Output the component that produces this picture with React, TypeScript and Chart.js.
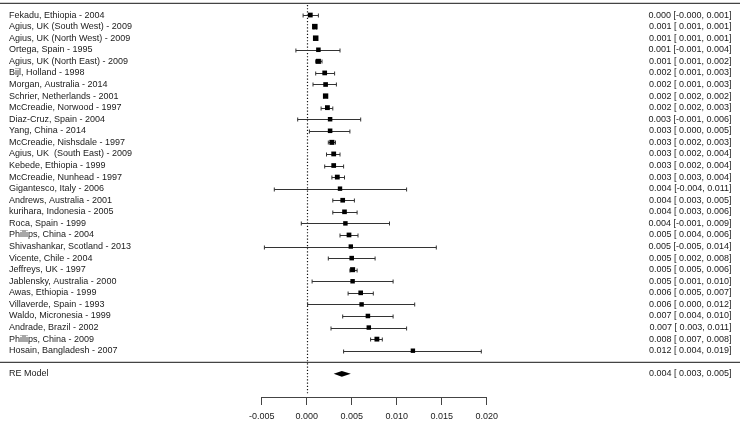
import React, { useEffect, useRef } from 'react';
import { Chart, registerables } from 'chart.js';

Chart.register(...registerables);

const studies = [
  'Fekadu, Ethiopia - 2004',
  'Agius, UK (South West) - 2009',
  'Agius, UK (North West) - 2009',
  'Ortega, Spain - 1995',
  'Agius, UK (North East) - 2009',
  'Bijl, Holland - 1998',
  'Morgan, Australia - 2014',
  'Schrier, Netherlands - 2001',
  'McCreadie, Norwood - 1997',
  'Diaz-Cruz, Spain - 2004',
  'Yang, China - 2014',
  'McCreadie, Nishsdale - 1997',
  'Agius, UK  (South East) - 2009',
  'Kebede, Ethiopia - 1999',
  'McCreadie, Nunhead - 1997',
  'Gigantesco, Italy - 2006',
  'Andrews, Australia - 2001',
  'kurihara, Indonesia - 2005',
  'Roca, Spain - 1999',
  'Phillips, China - 2004',
  'Shivashankar, Scotland - 2013',
  'Vicente, Chile - 2004',
  'Jeffreys, UK - 1997',
  'Jablensky, Australia - 2000',
  'Awas, Ethiopia - 1999',
  'Villaverde, Spain - 1993',
  'Waldo, Micronesia - 1999',
  'Andrade, Brazil - 2002',
  'Phillips, China - 2009',
  'Hosain, Bangladesh - 2007',
];

const estimates = [
  0.0004, 0.0009, 0.0010, 0.0013, 0.0013, 0.0020, 0.0021, 0.0021, 0.0023, 0.0026,
  0.0026, 0.0028, 0.0030, 0.0030, 0.0034, 0.0037, 0.0040, 0.0042, 0.0043, 0.0047,
  0.0049, 0.0050, 0.0051, 0.0051, 0.0060, 0.0061, 0.0068, 0.0069, 0.0078, 0.0118,
];

const lowerCI = [
  -0.0004, 0.0008, 0.0009, -0.0012, 0.0010, 0.0010, 0.0007, 0.0019, 0.0016, -0.0010,
  0.0003, 0.0024, 0.0022, 0.0020, 0.0028, -0.0036, 0.0029, 0.0029, -0.0006, 0.0037,
  -0.0047, 0.0024, 0.0048, 0.0006, 0.0046, 0.0001, 0.0040, 0.0027, 0.0071, 0.0041,
];

const upperCI = [
  0.0013, 0.0011, 0.0012, 0.0037, 0.0017, 0.0031, 0.0033, 0.0023, 0.0029, 0.0060,
  0.0048, 0.0032, 0.0037, 0.0041, 0.0042, 0.0111, 0.0053, 0.0056, 0.0092, 0.0057,
  0.0144, 0.0076, 0.0056, 0.0096, 0.0074, 0.0120, 0.0096, 0.0111, 0.0084, 0.0194,
];

const summaryLabel = 'RE Model';
const summaryEstimate = 0.0039;
const summaryLower = 0.0030;
const summaryUpper = 0.0049;

const tickValues = [-0.005, 0.0, 0.005, 0.01, 0.015, 0.02];

const FONT = '9px "Liberation Sans", Arial, sans-serif';
const TEXT_COLOR = '#1a1a1a';
const LINE_COLOR = '#333';

const k = studies.length;

function ciText(e: number, l: number, u: number): string {
  const ls = l.toFixed(3);
  const lower = ls.startsWith('-') ? ls : ' ' + ls;
  return `${e.toFixed(3)} [${lower}, ${u.toFixed(3)}]`;
}

const forestPlugin = {
  id: 'forestDecor',
  beforeDatasetsDraw(chart: any) {
    const { ctx } = chart;
    const x = chart.scales.x;
    const y = chart.scales.y;
    ctx.save();
    // reference line
    ctx.strokeStyle = '#111';
    ctx.lineWidth = 1.2;
    ctx.setLineDash([1.2, 2]);
    const x0 = Math.round(x.getPixelForValue(0)) + 0.5;
    ctx.beginPath();
    ctx.moveTo(x0, y.getPixelForValue(k + 1) + 1.5);
    ctx.lineTo(x0, y.getPixelForValue(-2.7));
    ctx.stroke();
    ctx.setLineDash([]);
    // confidence intervals
    ctx.strokeStyle = LINE_COLOR;
    ctx.lineWidth = 1;
    for (let i = 0; i < k; i++) {
      const py = Math.round(y.getPixelForValue(k - i)) + 0.5;
      const xl = x.getPixelForValue(lowerCI[i]);
      const xh = x.getPixelForValue(upperCI[i]);
      ctx.beginPath();
      ctx.moveTo(xl, py);
      ctx.lineTo(xh, py);
      ctx.moveTo(xl, py - 2);
      ctx.lineTo(xl, py + 2);
      ctx.moveTo(xh, py - 2);
      ctx.lineTo(xh, py + 2);
      ctx.stroke();
    }
    ctx.restore();
  },
  afterDraw(chart: any) {
    const { ctx, width } = chart;
    const x = chart.scales.x;
    const y = chart.scales.y;
    ctx.save();
    // horizontal rules
    ctx.strokeStyle = '#444';
    ctx.lineWidth = 1.3;
    [k + 1, 0].forEach((row) => {
      const py = y.getPixelForValue(row);
      ctx.beginPath();
      ctx.moveTo(0, py);
      ctx.lineTo(width, py);
      ctx.stroke();
    });
    // summary diamond
    const sy = y.getPixelForValue(-1);
    ctx.fillStyle = '#000';
    ctx.beginPath();
    ctx.moveTo(x.getPixelForValue(summaryLower), sy);
    ctx.lineTo(x.getPixelForValue(summaryEstimate), sy - 2.8);
    ctx.lineTo(x.getPixelForValue(summaryUpper), sy);
    ctx.lineTo(x.getPixelForValue(summaryEstimate), sy + 2.8);
    ctx.closePath();
    ctx.fill();
    // texts
    ctx.font = FONT;
    ctx.fillStyle = TEXT_COLOR;
    ctx.textBaseline = 'middle';
    const leftX = 9;
    const rightX = width - 8.5;
    for (let i = 0; i < k; i++) {
      const py = y.getPixelForValue(k - i);
      ctx.textAlign = 'left';
      ctx.fillText(studies[i], leftX, py);
      ctx.textAlign = 'right';
      ctx.fillText(ciText(estimates[i], lowerCI[i], upperCI[i]), rightX, py);
    }
    ctx.textAlign = 'left';
    ctx.fillText(summaryLabel, leftX, sy);
    ctx.textAlign = 'right';
    ctx.fillText(ciText(summaryEstimate, summaryLower, summaryUpper), rightX, sy);
    ctx.restore();
  },
};

export default function App() {
  const canvasRef = useRef<HTMLCanvasElement | null>(null);

  useEffect(() => {
    const canvas = canvasRef.current;
    if (!canvas) return;
    const inv = studies.map((_, i) => 1 / Math.sqrt(upperCI[i] - lowerCI[i]));
    const mn = Math.min(...inv);
    const mx = Math.max(...inv);
    const radii = inv.map((w) => 3.1 + 0.8 * (w - mn) / (mx - mn));

    const chart = new Chart(canvas, {
      type: 'scatter',
      data: {
        datasets: [
          {
            data: estimates.map((e, i) => ({ x: e, y: k - i })),
            pointStyle: 'rect',
            pointRadius: radii,
            pointBackgroundColor: '#000',
            pointBorderColor: '#000',
            pointBorderWidth: 0,
            showLine: false,
            clip: false as any,
          },
        ],
      },
      options: {
        animation: false,
        responsive: false,
        events: [],
        layout: { autoPadding: false, padding: { left: 261.7, right: 253.3, top: 0, bottom: 0 } },
        plugins: { legend: { display: false }, tooltip: { enabled: false } },
        scales: {
          x: {
            type: 'linear',
            position: 'bottom',
            min: -0.005,
            max: 0.02,
            afterBuildTicks: (scale: any) => {
              scale.ticks = tickValues.map((v) => ({ value: v }));
            },
            afterFit: (scale: any) => {
              scale.height = 35;
            },
            grid: {
              drawOnChartArea: false,
              drawTicks: true,
              tickLength: 8,
              color: '#444',
              lineWidth: 1,
            },
            border: { display: true, color: '#444', width: 1 },
            ticks: {
              color: TEXT_COLOR,
              font: { family: '"Liberation Sans", Arial, sans-serif', size: 9 },
              padding: 6,
              maxRotation: 0,
              autoSkip: false,
              callback: (v: any) => Number(v).toFixed(3),
            },
          },
          y: {
            type: 'linear',
            display: false,
            min: -3,
            max: k + 1.3,
          },
        },
      },
      plugins: [forestPlugin],
    });
    return () => chart.destroy();
  }, []);

  return (
    <div style={{ position: 'fixed', left: 0, top: 0, width: 740, height: 432, background: '#fff' }}>
      <canvas ref={canvasRef} width={740} height={432} style={{ display: 'block', width: 740, height: 432 }} />
    </div>
  );
}
